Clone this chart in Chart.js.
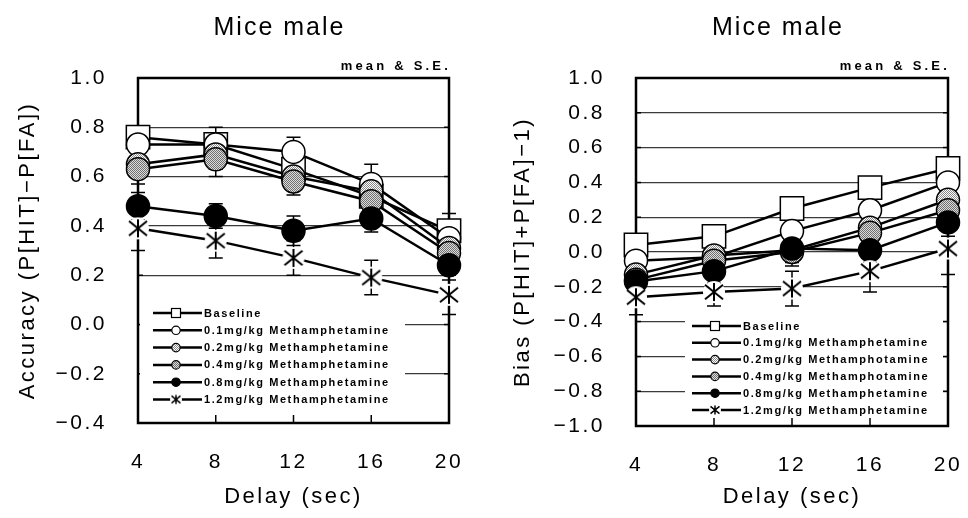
<!DOCTYPE html>
<html>
<head>
<meta charset="utf-8">
<script src="https://cdn.jsdelivr.net/npm/chart.js@4.4.1/dist/chart.umd.min.js"></script>
<style>
  html, body { margin: 0; padding: 0; background: #fff; }
  #wrap { position: relative; width: 968px; height: 518px; }
  .box { position: absolute; top: 0; width: 484px; height: 518px; }
</style>
</head>
<body>
<div id="wrap">
  <div class="box" style="left:0"><canvas id="acc" width="484" height="518"></canvas></div>
  <div class="box" style="left:484px"><canvas id="bias" width="484" height="518"></canvas></div>
</div>
<script>
// x categories (delay in sec)
const delays = [4, 8, 12, 16, 20];

const accNames = ['Baseline', '0.1mg/kg Methamphetamine', '0.2mg/kg Methamphetamine',
  '0.4mg/kg Methamphetamine', '0.8mg/kg Methamphetamine', '1.2mg/kg Methamphetamine'];
const biasNames = ['Baseline', '0.1mg/kg Methamphetamine', '0.2mg/kg Methamphotamine',
  '0.4mg/kg Methamphotamine', '0.8mg/kg Methamphetamine', '1.2mg/kg Methamphetamine'];

const accTicks = [-0.4, -0.2, 0.0, 0.2, 0.4, 0.6, 0.8, 1.0];
const biasTicks = [-1.0, -0.8, -0.6, -0.4, -0.2, 0.0, 0.2, 0.4, 0.6, 0.8, 1.0];

// Accuracy (P[HIT]-P[FA]) means
const accBaseline = [0.76, 0.73, 0.63, 0.52, 0.38];
const accMeth01   = [0.73, 0.73, 0.70, 0.57, 0.35];
const accMeth02   = [0.65, 0.69, 0.60, 0.54, 0.31];
const accMeth04   = [0.63, 0.67, 0.58, 0.50, 0.29];
const accMeth08   = [0.48, 0.44, 0.38, 0.43, 0.24];
const accMeth12   = [0.39, 0.34, 0.27, 0.19, 0.12];
// Accuracy S.E.
const accBaselineSE = [0.04, 0.04, 0.04, 0.04, 0.07];
const accMeth01SE   = [0.05, 0.07, 0.06, 0.08, 0.06];
const accMeth02SE   = [0.05, 0.06, 0.05, 0.06, 0.06];
const accMeth04SE   = [0.06, 0.07, 0.055, 0.06, 0.06];
const accMeth08SE   = [0.055, 0.05, 0.06, 0.055, 0.06];
const accMeth12SE   = [0.09, 0.07, 0.07, 0.07, 0.08];

// Bias (P[HIT]+P[FA]-1) means
const biasBaseline = [0.04, 0.09, 0.25, 0.37, 0.48];
const biasMeth01   = [-0.05, -0.03, 0.12, 0.24, 0.40];
const biasMeth02   = [-0.13, -0.02, 0.01, 0.14, 0.30];
const biasMeth04   = [-0.16, -0.05, 0.00, 0.11, 0.24];
const biasMeth08   = [-0.17, -0.11, 0.02, 0.01, 0.17];
const biasMeth12   = [-0.26, -0.23, -0.21, -0.11, 0.02];
// Bias S.E.
const biasBaselineSE = [0.05, 0.05, 0.05, 0.05, 0.05];
const biasMeth01SE   = [0.05, 0.05, 0.05, 0.05, 0.05];
const biasMeth02SE   = [0.06, 0.06, 0.06, 0.06, 0.06];
const biasMeth04SE   = [0.06, 0.06, 0.06, 0.06, 0.07];
const biasMeth08SE   = [0.07, 0.07, 0.10, 0.07, 0.08];
const biasMeth12SE   = [0.10, 0.08, 0.10, 0.12, 0.15];

const FONT = "'Liberation Sans', Arial, sans-serif";

function checker(a, b) {
  const c = document.createElement('canvas');
  c.width = 2; c.height = 2;
  const g = c.getContext('2d');
  g.fillStyle = a; g.fillRect(0, 0, 2, 2);
  g.fillStyle = b; g.fillRect(0, 0, 1, 1); g.fillRect(1, 1, 1, 1);
  return g.createPattern(c, 'repeat');
}

function asterisk(arm, gap, lw) {
  const c = document.createElement('canvas');
  c.width = c.height = gap * 2 + 2;
  const g = c.getContext('2d');
  const m = c.width / 2;
  g.fillStyle = '#fff';
  g.beginPath(); g.arc(m, m, gap, 0, Math.PI * 2); g.fill();
  g.strokeStyle = '#000'; g.lineWidth = lw;
  g.beginPath();
  g.moveTo(m - arm, m - arm * 0.8); g.lineTo(m + arm, m + arm * 0.8);
  g.moveTo(m + arm, m - arm * 0.8); g.lineTo(m - arm, m + arm * 0.8);
  g.moveTo(m, m - arm); g.lineTo(m, m + arm);
  g.stroke();
  return c;
}

const pat02 = checker('#ffffff', '#8a8a8a');
const pat04 = checker('#dcdcdc', '#707070');
const bigStar = asterisk(9, 11, 2);
const smallStar = asterisk(4.5, 6, 1.5);

const markerStyles = ['rect', 'circle', 'circle', 'circle', 'circle', bigStar];
const markerRadius = [16.5, 11.5, 11.5, 11.5, 11.5, 10];
const markerFills = ['#fff', '#fff', pat02, pat04, '#000', '#fff'];

const fmt = v => (v < -1e-9 ? '\u2212' : '') + Math.abs(v).toFixed(1);

function makeDatasets(means, errs, names) {
  return means.map((m, i) => ({
    label: names[i],
    data: delays.map((d, j) => ({ x: d, y: m[j], se: errs[i][j] })),
    borderColor: '#000',
    borderWidth: 2.5,
    pointStyle: markerStyles[i],
    pointRadius: markerRadius[i],
    pointBackgroundColor: markerFills[i],
    pointBorderColor: '#000',
    pointBorderWidth: 1.5,
    order: means.length - i,
    tension: 0,
    clip: false
  }));
}

// frame, inside tick marks and error bars, drawn under the markers
const underLayer = {
  id: 'underLayer',
  beforeDraw(chart) {
    chart.ctx.letterSpacing = '2.5px';
  },
  beforeDatasetsDraw(chart) {
    const { ctx, chartArea: a, scales: { x, y } } = chart;
    ctx.save();
    ctx.strokeStyle = '#000';
    ctx.lineWidth = 2.5;
    ctx.strokeRect(a.left, a.top, a.right - a.left, a.bottom - a.top);
    ctx.lineWidth = 1.5;
    ctx.beginPath();
    y.ticks.forEach(t => {
      const py = y.getPixelForValue(t.value);
      ctx.moveTo(a.left, py); ctx.lineTo(a.left + 5, py);
      ctx.moveTo(a.right, py); ctx.lineTo(a.right - 5, py);
    });
    x.ticks.forEach(t => {
      const px = x.getPixelForValue(t.value);
      ctx.moveTo(px, a.bottom); ctx.lineTo(px, a.bottom - 8);
    });
    ctx.stroke();

    ctx.lineWidth = 1.5;
    chart.data.datasets.forEach((ds, i) => {
      const meta = chart.getDatasetMeta(i);
      meta.data.forEach((pt, j) => {
        const d = ds.data[j];
        const top = y.getPixelForValue(d.y + d.se);
        const bot = y.getPixelForValue(d.y - d.se);
        ctx.beginPath();
        ctx.moveTo(pt.x, top); ctx.lineTo(pt.x, bot);
        ctx.moveTo(pt.x - 7, top); ctx.lineTo(pt.x + 7, top);
        ctx.moveTo(pt.x - 7, bot); ctx.lineTo(pt.x + 7, bot);
        ctx.stroke();
      });
    });
    ctx.restore();
  }
};

// title, "mean & S.E." note and the legend inside the plot
const overLayer = {
  id: 'overLayer',
  afterDraw(chart, args, opts) {
    const { ctx, chartArea: a } = chart;
    ctx.save();
    ctx.fillStyle = '#000';
    ctx.textBaseline = 'middle';

    ctx.letterSpacing = '2px';
    ctx.font = '25px ' + FONT;
    ctx.textAlign = 'center';
    ctx.fillText('Mice male', (a.left + a.right) / 2 - 14, 28);

    ctx.letterSpacing = '3.2px';
    ctx.font = 'bold 13px ' + FONT;
    ctx.textAlign = 'right';
    ctx.fillText('mean & S.E.', a.right + 2, 66);

    // legend
    const lg = opts.legend;
    const bx = a.left + lg.dx, by = a.top + lg.dy;
    ctx.fillStyle = '#fff';
    ctx.fillRect(bx, by, lg.w, lg.h);
    ctx.letterSpacing = '1.6px';
    ctx.font = 'bold 11px ' + FONT;
    ctx.textAlign = 'left';
    const lx = a.left + lg.lineX;
    chart.data.datasets.forEach((ds, i) => {
      const yy = a.top + lg.rowY + i * lg.step;
      ctx.strokeStyle = '#000';
      ctx.lineWidth = 2.5;
      ctx.beginPath(); ctx.moveTo(lx, yy); ctx.lineTo(lx + 49, yy); ctx.stroke();
      const mx = lx + 23;
      ctx.lineWidth = 1.2;
      ctx.fillStyle = markerFills[i];
      if (i === 0) {
        ctx.fillRect(mx - 4.5, yy - 4.5, 9, 9);
        ctx.strokeRect(mx - 4.5, yy - 4.5, 9, 9);
      } else if (i === 5) {
        ctx.drawImage(smallStar, mx - smallStar.width / 2, yy - smallStar.height / 2);
      } else {
        ctx.beginPath(); ctx.arc(mx, yy, 4.2, 0, Math.PI * 2); ctx.fill(); ctx.stroke();
      }
      ctx.fillStyle = '#000';
      ctx.fillText(ds.label, lx + 51, yy + 0.5);
    });
    ctx.restore();
  }
};

function makeChart(id, datasets, ticks, yTitle, lay) {
  return new Chart(document.getElementById(id), {
    type: 'line',
    data: { datasets },
    plugins: [underLayer, overLayer],
    options: {
      responsive: false,
      devicePixelRatio: 1,
      animation: false,
      events: [],
      layout: { padding: { top: 78, right: lay.padRight, left: 0, bottom: 0 } },
      plugins: {
        legend: { display: false },
        tooltip: { enabled: false },
        overLayer: { legend: lay.legend }
      },
      scales: {
        x: {
          type: 'linear',
          min: delays[0],
          max: delays[delays.length - 1],
          afterBuildTicks: s => { s.ticks = delays.map(v => ({ value: v })); },
          afterFit: s => { s.height = lay.axisH; s.paddingLeft = 0; s.paddingRight = 0; },
          grid: { display: false, drawTicks: false },
          border: { display: false },
          ticks: {
            color: '#000', padding: 27, maxRotation: 0, minRotation: 0, autoSkip: false,
            font: { family: FONT, size: 21 }
          },
          title: {
            display: true, text: 'Delay (sec)', color: '#000',
            font: { family: FONT, size: 22, lineHeight: 1 },
            padding: { top: 0, bottom: 10 }
          }
        },
        y: {
          min: ticks[0],
          max: ticks[ticks.length - 1],
          afterBuildTicks: s => { s.ticks = ticks.map(v => ({ value: v })); },
          afterFit: s => { s.width = lay.axisW; s.paddingTop = 0; s.paddingBottom = 0; },
          grid: { drawTicks: false, color: '#3a3a3a', lineWidth: 1.2 },
          border: { display: false },
          ticks: {
            color: '#000', padding: 31, callback: fmt,
            font: { family: FONT, size: 21 }
          },
          title: {
            display: true, text: yTitle, color: '#000',
            font: { family: FONT, size: 22, lineHeight: 1 },
            padding: { top: lay.titleX, bottom: 0 }
          }
        }
      }
    }
  });
}

makeChart('acc',
  makeDatasets([accBaseline, accMeth01, accMeth02, accMeth04, accMeth08, accMeth12],
    [accBaselineSE, accMeth01SE, accMeth02SE, accMeth04SE, accMeth08SE, accMeth12SE], accNames),
  accTicks, 'Accuracy (P[HIT]\u2212P[FA])',
  { axisW: 138, axisH: 95, padRight: 35, titleX: 17,
    legend: { dx: 2, dy: 225, w: 265, h: 106, lineX: 15, rowY: 235, step: 17.3 } });

makeChart('bias',
  makeDatasets([biasBaseline, biasMeth01, biasMeth02, biasMeth04, biasMeth08, biasMeth12],
    [biasBaselineSE, biasMeth01SE, biasMeth02SE, biasMeth04SE, biasMeth08SE, biasMeth12SE], biasNames),
  biasTicks, 'Bias (P[HIT]+P[FA]\u22121)',
  { axisW: 152, axisH: 92, padRight: 20, titleX: 28,
    legend: { dx: 49, dy: 238, w: 258, h: 102, lineX: 56, rowY: 248, step: 16.8 } });
</script>
</body>
</html>
